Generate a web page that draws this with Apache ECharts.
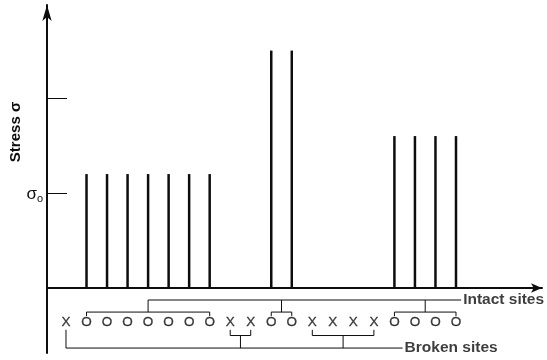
<!DOCTYPE html>
<html>
<head>
<meta charset="utf-8">
<script src="https://cdn.jsdelivr.net/npm/echarts@6/dist/echarts.min.js"></script>
<style>
  html, body { margin: 0; padding: 0; background: #fff; }
  #chart { width: 547px; height: 360px; }
</style>
</head>
<body>
<div id="chart"></div>
<script>
// Fibre-bundle sites along the chain: O = intact, X = broken
const sites = ['X','O','O','O','O','O','O','O','X','X','O','O','X','X','X','X','O','O','O','O'];
// Stress carried by each site, in units of sigma_o (broken sites carry none)
const stress = [0, 1.2, 1.2, 1.2, 1.2, 1.2, 1.2, 1.2, 0, 0, 2.5, 2.5, 0, 0, 0, 0, 1.6, 1.6, 1.6, 1.6];
// Y-axis tick positions and their labels
const yTickValues = [1, 2];
const yTickLabels = ['σo', ''];
// Groups of neighbouring sites (first index, last index)
const intactGroups = [[1, 7], [10, 11], [16, 19]];
const brokenGroups = [[0, 0], [8, 9], [12, 15]];
const groupLabels = ['Intact sites', 'Broken sites'];

// Vertical levels (stress units below the axis) for the site row and its brackets
const LV = {
  marker: -0.36,
  intactTick: -0.295, intactSub: -0.253, intactMain: -0.126,
  brokenTick: -0.44, brokenSub: -0.5, brokenMain: -0.632
};
const INTACT_END = 19.25, BROKEN_END = 16.4;

const INK = '#0d0d0d';
const barData = [];
sites.forEach((s, i) => { if (s === 'O') barData.push([i, stress[i]]); });

const markerData = sites.map((s, i) => ({ value: [i, LV.marker], name: s }));

function bracket(groups, tickY, subY, mainY) {
  const out = [];
  groups.forEach(([a, b]) => {
    if (a === b) {
      out.push({ coords: [[a, tickY], [a, mainY]] });
    } else {
      const m = (a + b) / 2;
      out.push({ coords: [[a, tickY], [a, subY], [b, subY], [b, tickY]] });
      out.push({ coords: [[m, subY], [m, mainY]] });
    }
  });
  return out;
}
const firstIntactMid = (intactGroups[0][0] + intactGroups[0][1]) / 2;
const lineData = []
  .concat(bracket(intactGroups, LV.intactTick, LV.intactSub, LV.intactMain))
  .concat(bracket(brokenGroups, LV.brokenTick, LV.brokenSub, LV.brokenMain))
  .concat([
    { coords: [[firstIntactMid, LV.intactMain], [INTACT_END, LV.intactMain]] },
    { coords: [[brokenGroups[0][0], LV.brokenMain], [BROKEN_END, LV.brokenMain]] }
  ]);

const chart = echarts.init(document.getElementById('chart'), null, { renderer: 'canvas' });
chart.setOption({
  animation: false,
  backgroundColor: '#fff',
  grid: { left: 47, right: 5, top: 5, bottom: 7 },
  xAxis: {
    type: 'value', min: -0.925, max: 23.19,
    axisLine: { show: true, onZero: true, symbol: ['none', 'arrow'], symbolSize: [7, 11],
      lineStyle: { color: INK, width: 2 } },
    axisTick: { show: false }, axisLabel: { show: false }, splitLine: { show: false }
  },
  yAxis: {
    type: 'value', min: -0.684, max: 2.98,
    axisLine: { show: true, onZero: false, symbol: ['none', 'arrow'], symbolSize: [7, 16],
      lineStyle: { color: INK, width: 2 } },
    axisTick: { show: true, inside: true, length: 20, customValues: yTickValues,
      lineStyle: { color: INK, width: 1 } },
    axisLabel: {
      show: true, customValues: yTickValues, margin: 4,
      formatter: v => {
        const t = yTickLabels[yTickValues.indexOf(v)] || '';
        return t ? '{a|' + t[0] + '}{b|' + t.slice(1) + '}' : '';
      },
      rich: {
        a: { fontFamily: 'Liberation Sans', fontSize: 17, color: INK, padding: [2, 0, 0, 0] },
        b: { fontFamily: 'Liberation Sans', fontSize: 11, color: INK, padding: [11, 0, 0, 0] }
      }
    },
    splitLine: { show: false }
  },
  graphic: [{
    type: 'text', x: 16, y: 132, rotation: Math.PI / 2,
    style: { text: 'Stress σ', font: 'bold 15px "Liberation Sans"', fill: INK,
      align: 'center', verticalAlign: 'middle' }
  }],
  series: [
    {
      type: 'bar', data: barData, barWidth: 2.5, silent: true,
      itemStyle: { color: INK }
    },
    {
      type: 'scatter', data: markerData, symbolSize: 0, silent: true,
      label: {
        show: true, position: 'inside', formatter: p => p.name,
        fontFamily: '"Liberation Sans Narrow", "Liberation Sans"', fontSize: 13.5, color: INK,
        textBorderColor: INK, textBorderWidth: 0.3
      }
    },
    {
      type: 'lines', coordinateSystem: 'cartesian2d', polyline: true, silent: true,
      data: lineData,
      lineStyle: { color: INK, width: 1, opacity: 1 }
    },
    {
      type: 'scatter', symbolSize: 0, silent: true,
      data: [
        { value: [INTACT_END, LV.intactMain], name: groupLabels[0] },
        { value: [BROKEN_END, LV.brokenMain], name: groupLabels[1] }
      ],
      label: {
        show: true, position: 'right', distance: 2, formatter: p => p.name,
        fontFamily: 'Liberation Sans', fontWeight: 'bold', fontSize: 15.5, color: INK
      }
    }
  ]
});
</script>
</body>
</html>
